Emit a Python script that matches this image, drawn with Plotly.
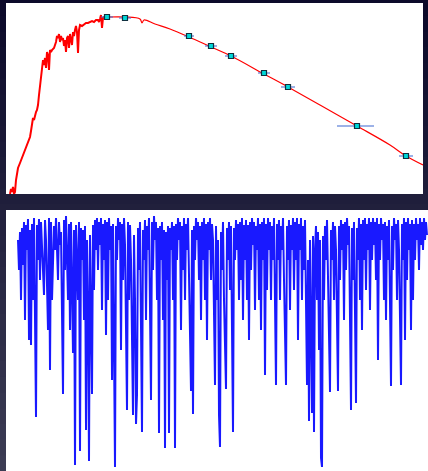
import plotly.graph_objects as go

# ---------------- top panel: spectral energy distribution ----------------
# observed (noisy) spectrum, x = wavelength position, y = level (reversed axis)
sed_x = [10, 11, 12, 13, 14, 15, 16, 17, 18, 20, 22, 25, 28, 30, 31, 32, 33, 34, 35, 36,
         37, 38, 39, 40, 41, 42, 43, 44, 45, 46, 47, 48, 49, 50, 51, 52, 54, 56, 57, 58,
         59, 60, 61, 62, 63, 64, 65, 66, 67, 68, 69, 70, 71, 72, 73, 74, 75, 76, 77, 78,
         79, 80, 82, 84, 86, 88, 90, 92, 94, 96, 98, 99, 100, 101, 102, 103, 104, 106, 108]
sed_y = [194, 189, 192, 187, 194, 192, 180, 173, 168, 163, 158, 150, 143, 137, 131, 122, 118, 120, 115, 112,
         110, 105, 95, 85, 78, 72, 60, 65, 58, 68, 52, 55, 70, 50, 52, 50, 48, 42, 36, 38,
         34, 42, 36, 40, 38, 46, 40, 52, 38, 36, 48, 34, 38, 45, 32, 36, 30, 26, 32, 53,
         30, 25, 26, 24, 23, 23, 22, 21, 22, 20, 20, 22, 19, 15, 28, 18, 17, 16, 17]

# model curve
model_x = [108, 125, 140, 142, 144, 155, 170, 189, 211, 231, 264, 288, 320, 357, 390, 406, 423]
model_y = [17, 17, 19, 23, 20, 24, 29, 37, 47, 56, 74, 87, 105, 126, 145, 156, 165]

# photometric points with horizontal error bars
phot_x = [107, 125, 189, 211, 231, 264, 288, 357, 406]
phot_y = [17, 18, 36, 46, 56, 73, 87, 126, 156]
phot_err_plus = [6, 6, 5, 6, 6, 6, 7, 17, 7]
phot_err_minus = [6, 6, 5, 6, 6, 6, 7, 20, 7]

# ---------------- bottom panel: normalised absorption spectrum ----------------
spec_x = [18, 19, 20, 21, 22, 23, 24, 25, 26, 27, 28, 29, 30, 31, 32, 33, 34, 36, 37, 38,
          39, 40, 41, 42, 44, 45, 46, 48, 49, 50, 51, 52, 54, 55, 56, 58, 59, 60, 61, 63,
          64, 65, 66, 68, 69, 70, 71, 73, 74, 75, 76, 78, 79, 80, 81, 82, 83, 84, 85, 86,
          87, 88, 89, 90, 92, 93, 94, 95, 96, 97, 98, 99, 100, 101, 102, 103, 104, 105, 106, 107,
          108, 109, 110, 111, 112, 113, 115, 116, 117, 118, 119, 120, 121, 122, 123, 124, 125, 127, 128, 129,
          130, 131, 133, 134, 135, 136, 137, 138, 139, 140, 142, 143, 144, 145, 146, 147, 148, 149, 151, 152,
          153, 154, 155, 156, 157, 158, 159, 160, 161, 162, 163, 164, 165, 166, 167, 168, 169, 170, 171, 172,
          173, 174, 175, 176, 177, 178, 179, 180, 181, 182, 183, 184, 185, 186, 187, 188, 189, 191, 192, 193,
          194, 195, 196, 197, 198, 199, 200, 201, 202, 203, 204, 205, 206, 207, 208, 209, 210, 211, 212, 213,
          215, 216, 217, 218, 219, 220, 221, 222, 223, 224, 226, 227, 228, 229, 230, 231, 233, 234, 235, 236,
          237, 238, 239, 240, 241, 242, 243, 244, 245, 246, 247, 248, 249, 250, 251, 252, 253, 254, 255, 256,
          257, 258, 259, 260, 261, 262, 263, 264, 265, 266, 267, 268, 269, 270, 271, 272, 273, 274, 276, 277,
          278, 279, 280, 281, 282, 283, 284, 286, 287, 288, 289, 290, 291, 292, 293, 294, 295, 296, 297, 298,
          299, 300, 301, 302, 303, 304, 305, 307, 308, 309, 310, 312, 313, 314, 315, 316, 317, 318, 319, 320,
          321, 322, 323, 324, 325, 326, 327, 328, 330, 331, 332, 333, 334, 335, 336, 338, 339, 340, 341, 342,
          343, 344, 345, 346, 347, 348, 349, 351, 352, 353, 354, 356, 357, 358, 359, 360, 361, 362, 363, 364,
          365, 366, 367, 368, 369, 370, 371, 372, 373, 374, 375, 376, 377, 378, 379, 380, 381, 382, 383, 384,
          385, 386, 387, 388, 389, 391, 392, 393, 394, 395, 396, 397, 398, 399, 401, 402, 403, 404, 405, 406,
          407, 408, 409, 410, 411, 412, 413, 414, 415, 416, 417, 418, 419, 420, 421, 422, 423, 424, 425, 426,
          427]
spec_y = [240, 270, 232, 300, 228, 265, 222, 320, 225, 250, 219, 340, 230, 345, 224, 300, 218, 417, 225, 260,
          219, 280, 222, 250, 295, 220, 240, 330, 218, 370, 222, 300, 226, 250, 218, 280, 222, 245, 232, 394,
          220, 270, 216, 300, 224, 330, 222, 353, 230, 465, 225, 300, 222, 451, 228, 260, 230, 320, 226, 430,
          240, 310, 461, 235, 394, 225, 290, 220, 250, 218, 270, 222, 245, 218, 310, 224, 260, 220, 335, 222,
          300, 218, 250, 226, 380, 224, 467, 226, 260, 218, 240, 222, 350, 224, 280, 218, 245, 410, 222, 300,
          225, 260, 415, 235, 300, 424, 395, 228, 270, 222, 432, 230, 260, 220, 320, 226, 250, 218, 400, 222,
          270, 216, 240, 222, 300, 228, 433, 226, 260, 222, 320, 230, 448, 232, 280, 226, 433, 228, 250, 222,
          300, 226, 448, 224, 260, 218, 240, 222, 330, 226, 270, 218, 300, 224, 250, 218, 270, 391, 230, 414,
          226, 260, 218, 240, 222, 280, 226, 320, 222, 260, 218, 300, 224, 340, 222, 250, 218, 280, 224, 240,
          385, 226, 300, 240, 415, 447, 232, 270, 222, 300, 389, 228, 260, 222, 290, 226, 432, 228, 260, 220,
          250, 224, 300, 222, 280, 218, 320, 225, 260, 220, 300, 225, 340, 222, 270, 218, 245, 222, 310, 226,
          250, 218, 300, 224, 330, 222, 260, 218, 375, 224, 290, 218, 250, 222, 300, 226, 260, 218, 385, 224,
          260, 220, 300, 226, 250, 218, 280, 385, 226, 260, 220, 310, 225, 250, 218, 290, 222, 260, 218, 340,
          224, 250, 218, 300, 226, 270, 220, 385, 260, 421, 240, 413, 236, 432, 250, 226, 300, 232, 350, 240,
          458, 467, 236, 300, 226, 260, 220, 280, 392, 230, 260, 222, 300, 226, 250, 391, 226, 280, 220, 250,
          224, 320, 222, 270, 218, 245, 226, 410, 228, 280, 222, 403, 228, 260, 218, 300, 224, 330, 220, 260,
          218, 290, 224, 250, 218, 310, 222, 260, 218, 245, 222, 280, 218, 360, 224, 260, 218, 240, 224, 300,
          222, 320, 226, 260, 220, 386, 226, 270, 218, 240, 224, 300, 220, 250, 385, 224, 260, 218, 340, 222,
          280, 218, 250, 224, 330, 220, 300, 224, 260, 218, 240, 224, 270, 218, 245, 222, 250, 218, 240, 222,
          235]

W, H = 428, 471

fig = go.Figure()

fig.add_trace(go.Scatter(x=sed_x, y=sed_y, mode="lines",
                         line=dict(color="#ff0000", width=2), xaxis="x", yaxis="y",
                         hoverinfo="skip", showlegend=False))
fig.add_trace(go.Scatter(x=model_x, y=model_y, mode="lines", line_shape="spline",
                         line=dict(color="#ff0000", width=1.2), xaxis="x", yaxis="y",
                         hoverinfo="skip", showlegend=False))
fig.add_trace(go.Scatter(x=phot_x, y=phot_y, mode="markers",
                         marker=dict(symbol="square", size=5, color="#00d8d8",
                                     line=dict(color="#103040", width=1.2)),
                         error_x=dict(type="data", array=phot_err_plus, arrayminus=phot_err_minus,
                                      color="rgba(70,110,210,0.7)", thickness=1.5, width=0),
                         xaxis="x", yaxis="y", hoverinfo="skip", showlegend=False))

fig.add_trace(go.Scatter(x=spec_x, y=spec_y, mode="lines",
                         line=dict(color="rgba(0,0,255,0.9)", width=2), xaxis="x2", yaxis="y2",
                         hoverinfo="skip", showlegend=False))

# background gradient bands
top_rgb = (12, 10, 42)
bot_rgb = (60, 60, 84)
n = 30
shapes = []
for i in range(n):
    t = i / (n - 1)
    c = tuple(int(top_rgb[k] + (bot_rgb[k] - top_rgb[k]) * t) for k in range(3))
    shapes.append(dict(type="rect", xref="paper", yref="paper", layer="below",
                       x0=0, x1=1, y0=1 - (i + 1) / n - 0.002, y1=1 - i / n,
                       fillcolor="rgb(%d,%d,%d)" % c, line=dict(width=0)))
# white panels
shapes.append(dict(type="rect", xref="paper", yref="paper", layer="below",
                   x0=6 / W, x1=423 / W, y0=1 - 194 / H, y1=1 - 3 / H,
                   fillcolor="white", line=dict(width=0)))
shapes.append(dict(type="rect", xref="paper", yref="paper", layer="below",
                   x0=6 / W, x1=1, y0=0, y1=1 - 210 / H,
                   fillcolor="white", line=dict(width=0)))

ax = dict(showgrid=False, zeroline=False, showticklabels=False, ticks="", showline=False)

fig.update_layout(
    width=W, height=H, margin=dict(l=0, r=0, t=0, b=0),
    paper_bgcolor="rgb(20,18,48)", plot_bgcolor="rgba(0,0,0,0)",
    shapes=shapes,
    xaxis=dict(domain=[6 / W, 423 / W], range=[6, 423], **ax),
    yaxis=dict(domain=[1 - 194 / H, 1 - 3 / H], range=[194, 3], **ax),
    xaxis2=dict(domain=[6 / W, 1], range=[6, 428], anchor="y2", **ax),
    yaxis2=dict(domain=[0, 1 - 210 / H], range=[471, 210], anchor="x2", **ax),
)

fig.write_html("out.html")
